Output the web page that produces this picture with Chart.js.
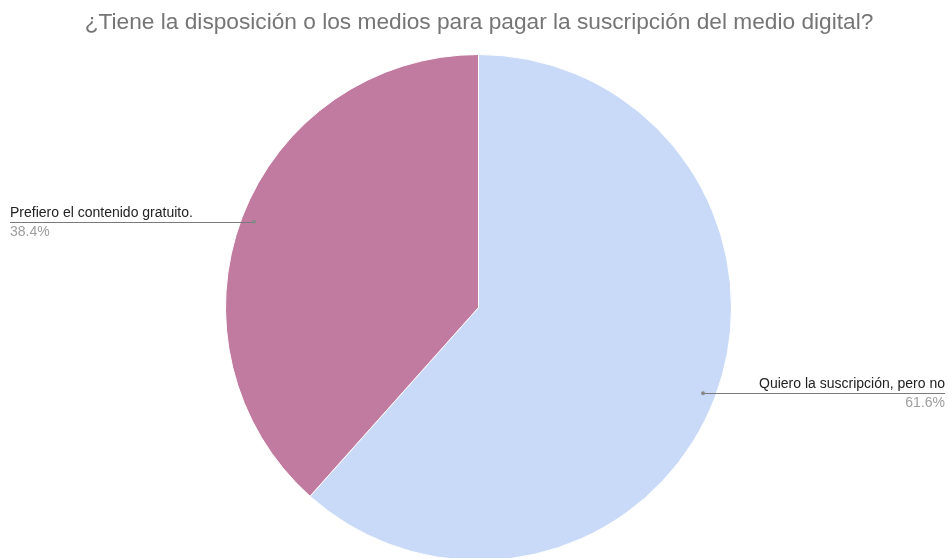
<!DOCTYPE html>
<html>
<head>
<meta charset="utf-8">
<script src="https://cdn.jsdelivr.net/npm/chart.js@4"></script>
<style>
html,body{margin:0;padding:0;background:#fff;overflow:hidden;}
#wrap{width:949px;height:561px;position:relative;}
</style>
</head>
<body>
<div id="wrap"><canvas id="pieChart"></canvas></div>
<script>
const titulo = "¿Tiene la disposición o los medios para pagar la suscripción del medio digital?";
const categorias = ["Quiero la suscripción, pero no", "Prefiero el contenido gratuito."];
const valores = [61.6, 38.4];
const colores = ["#c9daf8", "#c27ba0"];
const FONT = "'Liberation Sans', Arial, sans-serif";

// ================= ETIQUETAS =================
const etiquetas = {
  id: "etiquetas",
  afterDraw(chart){
    const ctx = chart.ctx;
    ctx.save();
    // titulo
    ctx.font = "22.7px " + FONT;
    ctx.fillStyle = "#757575";
    ctx.textAlign = "center";
    ctx.textBaseline = "alphabetic";
    ctx.fillText(titulo, 479, 29);

    const meta = chart.getDatasetMeta(0);
    const total = valores.reduce((a,b)=>a+b,0);
    meta.data.forEach((arc, i)=>{
      const mid = (arc.startAngle + arc.endAngle)/2;
      const r = arc.outerRadius*0.95;
      const px = arc.x + Math.cos(mid)*r;
      const py = arc.y + Math.sin(mid)*r;
      const derecha = Math.cos(mid) > 0;
      const xFin = derecha ? 945 : 10;

      ctx.strokeStyle = "#7a7a7a";
      ctx.lineWidth = 1;
      ctx.beginPath();
      ctx.moveTo(px, Math.round(py)+0.5);
      ctx.lineTo(xFin, Math.round(py)+0.5);
      ctx.stroke();
      ctx.fillStyle = "#8a8a8a";
      ctx.beginPath();
      ctx.arc(px, py, 2, 0, Math.PI*2);
      ctx.fill();

      ctx.textAlign = derecha ? "right" : "left";
      ctx.font = "14px " + FONT;
      ctx.fillStyle = "#222";
      ctx.fillText(categorias[i], xFin, py-5);
      ctx.fillStyle = "#9e9e9e";
      ctx.fillText((valores[i]/total*100).toFixed(1)+"%", xFin, py+14);
    });
    ctx.restore();
  }
};

new Chart(document.getElementById("pieChart"),{
  type:"pie",
  data:{
    labels:categorias,
    datasets:[{
      data:valores,
      backgroundColor:colores,
      borderColor:"#ffffff",
      borderWidth:1
    }]
  },
  options:{
    responsive:true,
    maintainAspectRatio:false,
    animation:false,
    layout:{padding:{top:54,left:8,right:0,bottom:0}},
    plugins:{
      legend:{display:false},
      tooltip:{enabled:false},
      title:{display:false}
    }
  },
  plugins:[etiquetas]
});
</script>
</body>
</html>
